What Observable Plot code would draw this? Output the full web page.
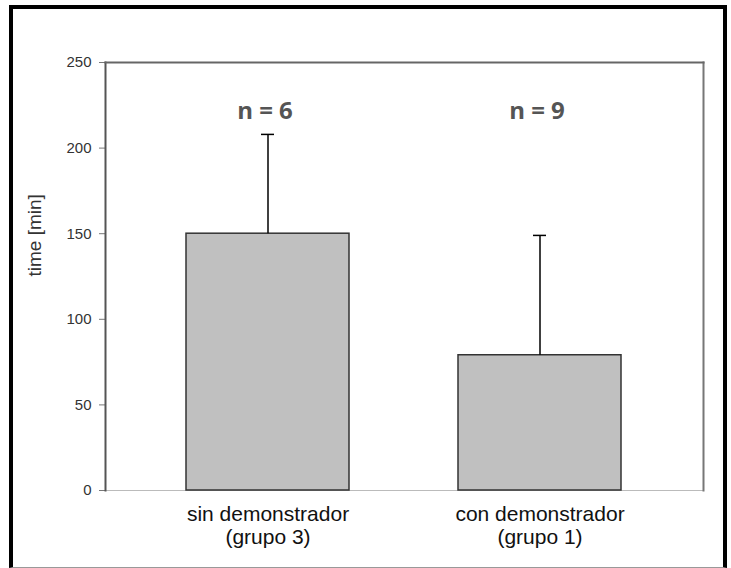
<!DOCTYPE html>
<html>
<head>
<meta charset="utf-8">
<script src="https://cdn.jsdelivr.net/npm/d3@7"></script>
<script src="https://cdn.jsdelivr.net/npm/@observablehq/plot@0.6"></script>
<style>
  html, body { margin: 0; padding: 0; background: #fff; }
  #wrap { position: relative; width: 731px; height: 568px; overflow: hidden; background: #fff; }
  #border { position: absolute; left: 9px; top: 5px; width: 718px; height: 563px; box-sizing: border-box;
            border-left: 4px solid #000; border-top: 4px solid #000; border-right: 4px solid #000; border-bottom: 1px solid #999; pointer-events: none; }
  #wrap svg { position: absolute; left: 0; top: 0; }
</style>
</head>
<body>
<div id="wrap"><div id="border"></div></div>
<script>
const categories = ["sin demonstrador\n(grupo 3)", "con demonstrador\n(grupo 1)"];
const means = [150, 79];
const errUpper = [208, 149];
const nLabels = ["n = 6", "n = 9"];
const yTicks = [0, 50, 100, 150, 200, 250];

const rows = categories.map((c, i) => ({cat: c, mean: means[i], up: errUpper[i], n: nLabels[i]}));

const chart = Plot.plot({
  width: 731,
  height: 568,
  marginLeft: 105,
  marginRight: 28,
  marginTop: 62,
  marginBottom: 78,
  style: {fontFamily: "Liberation Sans, Arial, sans-serif", background: "transparent"},
  x: {domain: categories, range: [132, 676], paddingInner: 0.4, paddingOuter: 0.2, align: 0.5},
  y: {domain: [0, 250]},
  marks: [
    Plot.ruleY([0], {stroke: "#bbb", strokeWidth: 1}),
    Plot.barY(rows, {x: "cat", y: "mean", fill: "#c0c0c0", stroke: "#333", strokeWidth: 1.5}),
    Plot.ruleX(rows, {x: "cat", y1: "mean", y2: "up", stroke: "#000", strokeWidth: 1.5}),
    Plot.tickY(rows, {x: "cat", y: "up", stroke: "#000", strokeWidth: 1.5, insetLeft: 75, insetRight: 75}),
    Plot.text(rows, {x: "cat", text: "n", frameAnchor: "top", dy: 39, dx: -3, fontSize: 24, fontWeight: "bold",
      fill: "#555", fontFamily: "Open Sans, Lato, sans-serif"}),
    Plot.axisY({ticks: yTicks, tickSize: 6, tickPadding: 8, fontSize: 15, color: "#333", label: null, stroke: "#777"}),
    Plot.text(["time [min]"], {frameAnchor: "left", dx: -71, rotate: -90, fontSize: 19, fill: "#333"}),
    Plot.axisX({tickSize: 0, tickPadding: 14, fontSize: 21, fill: "#111", label: null, lineHeight: 1.1}),
    Plot.frame({anchor: "left", stroke: "#555", strokeWidth: 2}),
    Plot.frame({anchor: "right", stroke: "#777", strokeWidth: 2}),
    Plot.frame({anchor: "top", stroke: "#666", strokeWidth: 2})
  ]
});
document.getElementById("wrap").prepend(chart);
</script>
</body>
</html>
